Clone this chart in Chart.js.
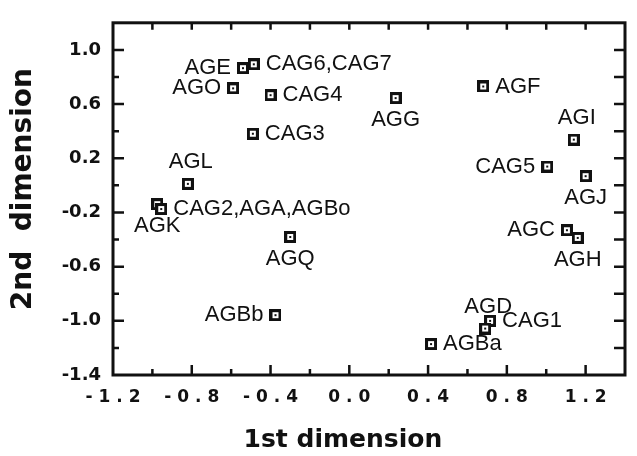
<!DOCTYPE html>
<html>
<head>
<meta charset="utf-8">
<script src="https://cdn.jsdelivr.net/npm/chart.js@4"></script>
<style>
  html, body { margin: 0; padding: 0; background: #fff; }
  #chart { display: block; }
</style>
</head>
<body>
<canvas id="chart" width="637" height="456"></canvas>
<script>
/* ===== Data ===== */
const names = ['AGE', 'CAG6,CAG7', 'AGO', 'CAG4', 'CAG3', 'AGL', 'AGK', 'CAG2,AGA,AGBo',
               'AGQ', 'AGBb', 'AGG', 'AGF', 'AGI', 'CAG5', 'AGJ', 'AGC', 'AGH', 'CAG1', 'AGD', 'AGBa'];
const dim1 = [-0.54, -0.485, -0.59, -0.40, -0.49, -0.82, -0.975, -0.955,
              -0.30, -0.375, 0.235, 0.68, 1.14, 1.005, 1.20, 1.105, 1.16, 0.715, 0.69, 0.415];
const dim2 = [0.865, 0.894, 0.716, 0.666, 0.381, 0.011, -0.139, -0.175,
              -0.381, -0.958, 0.644, 0.73, 0.338, 0.139, 0.068, -0.331, -0.388, -1.0, -1.057, -1.172];

const xRange = [-1.2, 1.4];
const yRange = [-1.4, 1.2];
const minorStep = 0.2;
const majorStep = 0.4;

// where each name sits relative to its marker
const labelPlace = ['left', 'right', 'left', 'right', 'right', 'above', 'below', 'right',
                    'below', 'left', 'below', 'right', 'above', 'left', 'below', 'left', 'below', 'right', 'above', 'right'];

const INK = '#111';

/* ===== Marker: dark square with a white core and a dot ===== */
function makeMarker() {
  const c = document.createElement('canvas');
  c.width = 12; c.height = 12;
  const g = c.getContext('2d');
  g.fillStyle = INK;
  g.fillRect(0, 0, 12, 12);
  g.fillStyle = '#fff';
  g.fillRect(3, 3, 6, 6);
  g.fillStyle = INK;
  g.fillRect(5, 5, 2, 2);
  return c;
}

const isMajor = (v, min) => {
  const k = (v - min) / majorStep;
  return Math.abs(k - Math.round(k)) < 1e-6;
};

/* ===== Frame, inward ticks, point names ===== */
const framePlugin = {
  id: 'frame',
  afterDraw(chart) {
    const { ctx, chartArea: a, scales } = chart;
    ctx.save();
    ctx.strokeStyle = INK;
    ctx.lineWidth = 2.5;
    ctx.beginPath();
    scales.x.ticks.forEach(t => {
      const px = scales.x.getPixelForValue(t.value);
      if (px <= a.left + 2 || px >= a.right - 2) return;
      const len = isMajor(t.value, xRange[0]) ? 10 : 6;
      ctx.moveTo(px, a.bottom); ctx.lineTo(px, a.bottom - len);
      ctx.moveTo(px, a.top);    ctx.lineTo(px, a.top + 7);
    });
    scales.y.ticks.forEach(t => {
      const py = scales.y.getPixelForValue(t.value);
      if (py <= a.top + 2 || py >= a.bottom - 2) return;
      const len = isMajor(t.value, yRange[0]) ? 11 : 6;
      ctx.moveTo(a.left, py);  ctx.lineTo(a.left + len, py);
      ctx.moveTo(a.right, py); ctx.lineTo(a.right - 11, py);
    });
    ctx.stroke();
    ctx.lineWidth = 3;
    ctx.strokeRect(a.left, a.top, a.right - a.left, a.bottom - a.top);

    // names
    ctx.fillStyle = INK;
    ctx.font = '22px "Liberation Sans", Arial, sans-serif';
    ctx.textBaseline = 'middle';
    const meta = chart.getDatasetMeta(0);
    meta.data.forEach((pt, i) => {
      const place = labelPlace[i];
      let x = pt.x, y = pt.y;
      if (place === 'left')  { ctx.textAlign = 'right';  x -= 12; }
      if (place === 'right') { ctx.textAlign = 'left';   x += 12; }
      if (place === 'above') { ctx.textAlign = 'center'; y -= 22; x += 3; }
      if (place === 'below') { ctx.textAlign = 'center'; y += 22; }
      ctx.fillText(names[i], x, y);
    });
    ctx.restore();
  }
};

/* ===== Chart ===== */
const ctx = document.getElementById('chart').getContext('2d');

new Chart(ctx, {
  type: 'scatter',
  data: {
    datasets: [{
      label: 'groups',
      data: dim1.map((x, i) => ({ x, y: dim2[i] })),
      pointStyle: makeMarker(),
      pointRadius: 6,
      pointHoverRadius: 6
    }]
  },
  options: {
    responsive: false,
    animation: false,
    layout: { padding: { top: 10, right: 4, left: 0, bottom: 0 } },
    plugins: {
      legend: { display: false },
      tooltip: { enabled: false }
    },
    scales: {
      x: {
        type: 'linear',
        min: xRange[0], max: xRange[1],
        afterFit: s => { s.height = 81; },
        grid: { display: false, drawTicks: false },
        border: { display: false },
        ticks: {
          stepSize: minorStep,
          autoSkip: false,
          maxRotation: 0,
          padding: 12,
          color: INK,
          font: { family: '"DejaVu Sans"', weight: 'bold', size: 17 },
          callback: v => isMajor(v, xRange[0]) ? v.toFixed(1).split('').join(' ') : ''
        },
        title: {
          display: true,
          // trailing spaces pull the title left of centre, as in the original
          text: '1st dimension      ',
          color: INK,
          padding: { top: 0, bottom: 1 },
          font: { family: '"DejaVu Sans"', weight: 'bold', size: 25 }
        }
      },
      y: {
        type: 'linear',
        min: yRange[0], max: yRange[1],
        afterFit: s => { s.width = 113; },
        grid: { display: false, drawTicks: false },
        border: { display: false },
        ticks: {
          stepSize: minorStep,
          autoSkip: false,
          padding: 12,
          color: INK,
          font: { family: '"DejaVu Sans"', weight: 'bold', size: 18 },
          callback: v => isMajor(v, yRange[0]) ? v.toFixed(1) : ''
        },
        title: {
          display: true,
          text: '  2nd  dimension',
          color: INK,
          padding: { top: 7, bottom: 0 },
          font: { family: '"DejaVu Sans"', weight: 'bold', size: 28 }
        }
      }
    }
  },
  plugins: [framePlugin]
});
</script>
</body>
</html>
